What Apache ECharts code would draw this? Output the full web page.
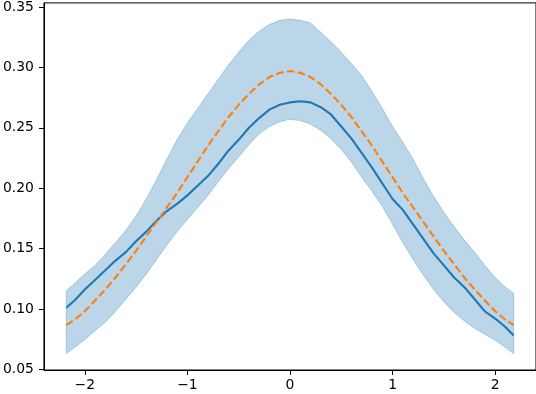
<!DOCTYPE html>
<html>
<head>
    <meta charset="utf-8">
    <script src="https://cdn.jsdelivr.net/npm/echarts@6/dist/echarts.min.js"></script>
    <style>
        html, body { margin: 0; padding: 0; background: #fff; }
    </style>
</head>
<body>
<div id="main" style="width: 536px;height:394px;"></div>
<script type="text/javascript">
    // x positions of the samples
    var xs = [-2.18, -2.1, -2.0, -1.9, -1.8, -1.7, -1.6, -1.5, -1.4, -1.3, -1.2, -1.1, -1.0,
        -0.9, -0.8, -0.7, -0.6, -0.5, -0.4, -0.3, -0.2, -0.1, 0.0,
        0.1, 0.2, 0.3, 0.4, 0.5, 0.6, 0.7, 0.8, 0.9, 1.0,
        1.1, 1.2, 1.3, 1.4, 1.5, 1.6, 1.7, 1.8, 1.9, 2.0, 2.1, 2.18];

    // blue solid line (mean)
    var meanVals = [0.101, 0.107, 0.116, 0.124, 0.132, 0.140, 0.147, 0.156, 0.164, 0.173, 0.181, 0.187, 0.194,
        0.202, 0.210, 0.220, 0.231, 0.240, 0.250, 0.258, 0.265, 0.269, 0.271,
        0.272, 0.271, 0.267, 0.261, 0.251, 0.241, 0.229, 0.217, 0.204, 0.191,
        0.182, 0.170, 0.158, 0.146, 0.136, 0.126, 0.118, 0.108, 0.098, 0.092, 0.085, 0.078];

    // shaded band, lower and upper edge
    var lowerVals = [0.063, 0.068, 0.0745, 0.082, 0.089, 0.098, 0.108, 0.118, 0.129, 0.141, 0.153, 0.164, 0.174,
        0.184, 0.194, 0.205, 0.216, 0.226, 0.236, 0.245, 0.251, 0.255, 0.257,
        0.256, 0.253, 0.248, 0.241, 0.232, 0.2215, 0.209, 0.1975, 0.185, 0.170,
        0.155, 0.141, 0.128, 0.116, 0.106, 0.097, 0.090, 0.084, 0.079, 0.074, 0.068, 0.063];
    var upperVals = [0.115, 0.121, 0.129, 0.136, 0.145, 0.155, 0.165, 0.177, 0.191, 0.207, 0.224, 0.240, 0.254,
        0.266, 0.278, 0.290, 0.302, 0.3125, 0.3225, 0.330, 0.3355, 0.339, 0.340,
        0.339, 0.3368, 0.329, 0.321, 0.3125, 0.303, 0.293, 0.280, 0.266, 0.251,
        0.238, 0.224, 0.208, 0.193, 0.180, 0.168, 0.157, 0.147, 0.136, 0.126, 0.118, 0.113];

    // orange dashed line
    var refVals = [0.0866, 0.091, 0.098, 0.107, 0.116, 0.126, 0.137, 0.148, 0.160, 0.172, 0.184, 0.196, 0.209,
        0.222, 0.235, 0.247, 0.2587, 0.269, 0.278, 0.286, 0.292, 0.2955, 0.297,
        0.2955, 0.292, 0.286, 0.278, 0.269, 0.2587, 0.247, 0.235, 0.222, 0.209,
        0.196, 0.184, 0.172, 0.160, 0.148, 0.137, 0.126, 0.116, 0.107, 0.098, 0.091, 0.0866];

    var xTicks = [-2, -1, 0, 1, 2];
    var yTicks = [0.05, 0.10, 0.15, 0.20, 0.25, 0.30, 0.35];

    function pairs(ys) {
        return xs.map(function (x, i) { return [x, ys[i]]; });
    }

    var bandFill = 'rgba(31,119,180,0.3)';
    var labelFont = {color: '#000', fontFamily: 'DejaVu Sans', fontSize: 13.9};

    // band polygon: upper edge left->right, then lower edge right->left
    function renderBand(params, api) {
        var pts = [];
        for (var i = 0; i < xs.length; i++) pts.push(api.coord([xs[i], upperVals[i]]));
        for (var j = xs.length - 1; j >= 0; j--) pts.push(api.coord([xs[j], lowerVals[j]]));
        return {
            type: 'polygon',
            shape: {points: pts},
            style: {fill: bandFill, stroke: bandFill, lineWidth: 1}
        };
    }

    var myChart = echarts.init(document.getElementById('main'));
    myChart.setOption({
        animation: false,
        grid: {
            left: 41, top: 1.6, width: 497, height: 368.4,
            show: true, borderColor: '#000', borderWidth: 1, backgroundColor: 'transparent'
        },
        xAxis: {
            type: 'value', min: -2.398, max: 2.398,
            axisLine: {show: true, onZero: false, lineStyle: {color: '#000', width: 1}},
            axisTick: {show: true, inside: false, length: 4.9, customValues: xTicks, lineStyle: {color: '#000'}},
            axisLabel: Object.assign({
                margin: 8, customValues: xTicks,
                formatter: function (v) { return v < 0 ? '\u2212' + Math.abs(v) : String(v); }
            }, labelFont),
            splitLine: {show: false}
        },
        yAxis: {
            type: 'value', min: 0.0494, max: 0.3534,
            axisLine: {show: true, onZero: false, lineStyle: {color: '#000', width: 1}},
            axisTick: {show: true, inside: false, length: 4.9, customValues: yTicks, lineStyle: {color: '#000'}},
            axisLabel: Object.assign({
                margin: 10, customValues: yTicks,
                formatter: function (v) { return v.toFixed(2); }
            }, labelFont),
            splitLine: {show: false}
        },
        series: [
            {
                name: 'band', type: 'custom', renderItem: renderBand,
                data: [[xs[0], lowerVals[0]]], z: 1
            },
            {
                name: 'mean', type: 'line', data: pairs(meanVals), showSymbol: false,
                lineStyle: {color: '#1f77b4', width: 2.1}, z: 3
            },
            {
                name: 'ref', type: 'line', data: pairs(refVals), showSymbol: false,
                lineStyle: {color: '#ff7f0e', width: 2.1, type: [7.7, 3.3]}, z: 4
            }
        ]
    });
</script>
</body>
</html>
